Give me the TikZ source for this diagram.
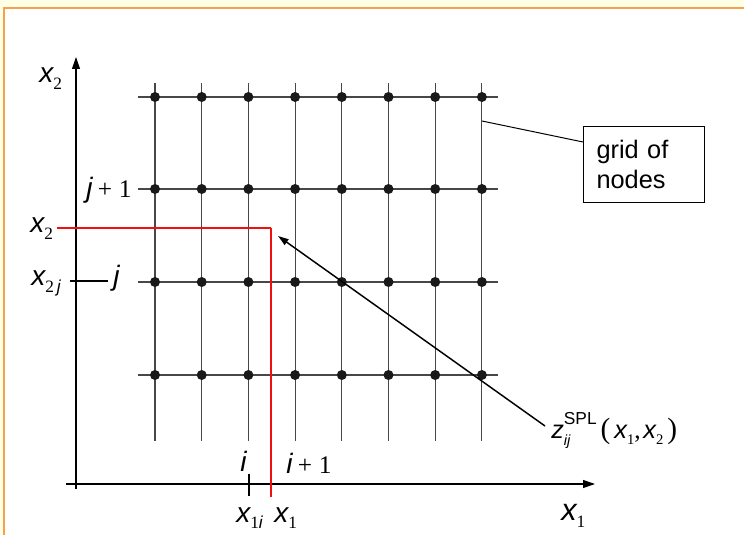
\documentclass[tikz,border=0pt]{standalone}
\usepackage{fontspec}
\setmainfont{Liberation Sans}
\newfontfamily\tmf{Liberation Serif}
\usetikzlibrary{arrows.meta}
\definecolor{bordor}{HTML}{F8A04C}
\definecolor{bgyel}{HTML}{FFFFE6}
\definecolor{redl}{HTML}{F01010}
\newcommand{\vx}[1]{{\itshape #1}}
\newcommand{\sbs}[1]{\raisebox{-0.25em}{\fontsize{13}{13}\selectfont #1}}
\newcommand{\sbz}[1]{\raisebox{-0.25em}{\fontsize{11}{11}\selectfont #1}}
\begin{document}
\begin{tikzpicture}[x=0.75pt,y=-0.75pt,
  lbl/.style={anchor=base west, inner sep=0pt, font=\fontsize{21}{21}\selectfont},
  gridl/.style={black!72, line width=0.8pt},
  dot/.style={circle, fill=black!90, inner sep=0pt, minimum size=7.5pt},
  axis/.style={line width=0.8pt, -{Triangle[length=9pt,width=6pt]}},
  tick/.style={line width=1.5pt}]
\useasboundingbox (0,0) rectangle (744,535);
\fill[bgyel] (0,0) rectangle (744,8);
\fill[bgyel] (0,0) rectangle (4,535);
\draw[bordor, line width=1.5pt] (4,536) -- (4,8) -- (745,8);

% axes
\coordinate (xa0) at (66,484);
\coordinate (xa1) at (595,484);
\coordinate (ya0) at (76,489);
\coordinate (ya1) at (76,57);
\draw[axis] (xa0) -- (xa1);
\draw[axis] (ya0) -- (ya1);

% grid
\foreach \i in {0,...,7} {
  \pgfmathsetmacro\gx{155+\i*46.7}
  \coordinate (vt\i) at (\gx,83);
  \coordinate (vb\i) at (\gx,441);
  \draw[gridl] (vt\i) -- (vb\i);
}
\foreach \j/\gy in {0/375,1/282,2/189,3/97} {
  \coordinate (hl\j) at (138,\gy);
  \coordinate (hr\j) at (498,\gy);
  \draw[gridl] (hl\j) -- (hr\j);
}
\foreach \i in {0,...,7} {
  \foreach \j/\gy in {0/375,1/282,2/189,3/97} {
    \pgfmathsetmacro\gx{155+\i*46.7}
    \node[dot] (n\i-\j) at (\gx,\gy) {};
  }
}

% red lines
\coordinate (rl) at (57,228);
\coordinate (rc) at (271,228);
\coordinate (rb) at (271,497);
\draw[redl, line width=1.1pt] (rl) -- (rc);
\draw[redl, line width=1.5pt] (rc) -- (rb);

% ticks
\coordinate (ti0) at (249,474);
\coordinate (ti1) at (249,496);
\draw[tick] (ti0) -- (ti1);
\coordinate (tj0) at (70,281);
\coordinate (tj1) at (108,281);
\draw[tick] (tj0) -- (tj1);

% labels
\node[lbl] (lx2top) at (39,83) {\vx{x}\sbs{\tmf 2}};
\node[lbl] (ljp1) at (86,198) {\vx{j}\hspace{4pt}{\tmf\fontsize{19}{19}\selectfont +\hspace{5pt}1}};
\node[lbl] (lx2r) at (30,233) {\vx{x}\sbs{\tmf 2}};
\node[lbl] (lx2j) at (31,286) {\vx{x}\sbs{{\tmf 2}\,\itshape j}};
\node[lbl] (lj) at (113,286) {\vx{j}};
\node[lbl] (li) at (240,471) {\vx{i}};
\node[lbl] (lip1) at (286,473) {\vx{i}\hspace{4pt}{\tmf\fontsize{19}{19}\selectfont +\hspace{5pt}1}};
\node[lbl] (lx1i) at (236,522) {\vx{x}\sbs{{\tmf 1}\itshape i}};
\node[lbl] (lx1) at (274,522) {\vx{x}\sbs{\tmf 1}};
\node[lbl, font=\fontsize{23}{23}\selectfont] (lx1ax) at (561,520) {\vx{x}\sbs{\tmf 1}};

\node[lbl, font=\fontsize{19}{19}\selectfont] (lz) at (551,438) {\vx{z}\rlap{\raisebox{-0.3em}{\fontsize{11}{11}\selectfont\itshape ij}}\raisebox{0.55em}{\fontsize{13}{13}\selectfont SPL}\hspace{3pt}{\tmf\fontsize{22}{22}\selectfont (}\hspace{3pt}\vx{x}\sbz{\tmf 1}{\tmf ,}\hspace{2pt}\vx{x}\sbz{\tmf 2}\hspace{3pt}{\tmf\fontsize{22}{22}\selectfont )}};

% pointer
\coordinate (ps) at (545,426);
\coordinate (pt) at (278,236);
\draw[line width=1.1pt, -{Triangle[length=8pt,width=5pt]}] (ps) -- (pt);

% box
\node[draw, line width=0.75pt, anchor=north west, minimum height=57pt,
      text width=71.25pt, inner xsep=9.75pt, align=left,
      font=\fontsize{19}{22.5}\selectfont] (box) at (583,126) {grid of\\nodes};
\coordinate (gp) at (482,121);
\coordinate (bl) at (583,142);
\draw[line width=0.75pt] (gp) -- (bl);
\end{tikzpicture}
\end{document}
